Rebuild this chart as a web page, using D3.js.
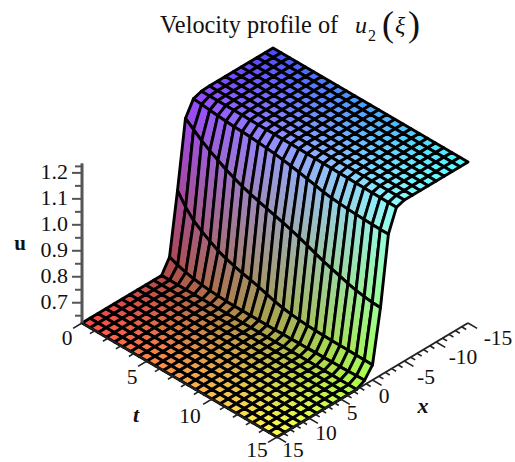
<!DOCTYPE html>
<html><head><meta charset="utf-8">
<script src="https://cdn.jsdelivr.net/npm/d3@7"></script>
<style>html,body{margin:0;padding:0;background:#fff}svg{display:block}text{font-family:"Liberation Serif",serif;fill:#111}</style>
</head><body><svg id="c" width="515" height="462"></svg>
<script>
// grid values along each axis
const xValues=[15,13.75,12.5,11.25,10,8.75,7.5,6.25,5,3.75,2.5,1.25,0,-1.25,-2.5,-3.75,-5,-6.25,-7.5,-8.75,-10,-11.25,-12.5,-13.75,-15];
const tValues=[0,0.625,1.25,1.875,2.5,3.125,3.75,4.375,5,5.625,6.25,6.875,7.5,8.125,8.75,9.375,10,10.625,11.25,11.875,12.5,13.125,13.75,14.375,15];
const uLow=0.62, uHigh=1.24;
// u along t (25 grid rows) for the grid columns where the front passes
const uAtX1p25=[.673,.660,.650,.643,.638,.634,.632,.630,.630,.630,.630,.630,.630,.630,.631,.631,.632,.632,.633,.633,.634,.634,.635,.636,.637];
const uAtX0=[.910,.865,.830,.807,.788,.770,.757,.747,.738,.730,.722,.712,.702,.695,.690,.686,.683,.682,.681,.680,.680,.680,.679,.679,.678];
const uAtXm1p25=[1.170,1.145,1.120,1.100,1.082,1.064,1.049,1.036,1.025,1.015,1.006,.997,.988,.978,.967,.955,.942,.930,.920,.910,.900,.892,.886,.882,.880];
const uAtXm2p5=[1.227,1.224,1.220,1.217,1.214,1.211,1.210,1.208,1.205,1.202,1.198,1.193,1.188,1.182,1.175,1.168,1.161,1.156,1.153,1.150,1.148,1.147,1.146,1.145,1.145];
const uAtXm3p75=[1.238,1.238,1.238,1.238,1.238,1.238,1.237,1.237,1.237,1.237,1.236,1.236,1.236,1.235,1.235,1.234,1.234,1.233,1.233,1.232,1.232,1.231,1.231,1.230,1.230];
const frontColumns=new Map([[1.25,uAtX1p25],[0,uAtX0],[-1.25,uAtXm1p25],[-2.5,uAtXm2p5],[-3.75,uAtXm3p75]]);
// tick labels
const uTicks=[0.7,0.8,0.9,1.0,1.1,1.2];
const uMinorTicks=[0.65,0.75,0.85,0.95,1.05,1.15,1.225];
const tLabels=[0,5,10,15];
const xLabels=[15,10,5,0,-5,-10,-15];
const minorUnits=d3.range(0,16);
const xUnits=d3.range(-15,16);

const svg=d3.select("#c");
const defs=svg.append("defs");
defs.append("filter").attr("id","soft").attr("filterUnits","userSpaceOnUse").attr("x",0).attr("y",0).attr("width",515).attr("height",462)
  .append("feGaussianBlur").attr("stdDeviation",0.6);

// oblique projection built from linear scales
const tSX=d3.scaleLinear().domain([0,15]).range([0,195]);
const tSY=d3.scaleLinear().domain([0,15]).range([0,114]);
const xSX=d3.scaleLinear().domain([15,-15]).range([82,273]);
const xSY=d3.scaleLinear().domain([15,-15]).range([0,-114]);
const uS=d3.scaleLinear().domain([uLow,uHigh]).range([323,162]);
const px=(x,t)=>xSX(x)+tSX(t);
const py=(x,t,u)=>uS(u)+xSY(x)+tSY(t);

const red=d3.scaleLinear().domain([15,-15]).range([255,75]);
const green=d3.scaleLinear().domain([0,15]).range([72,255]);
const blue=d3.scaleLinear().domain([uLow,uHigh]).range([72,255]);
const col=(x,t,u)=>`rgb(${red(x)|0},${green(t)|0},${blue(u)|0})`;

function uAt(xi,ti){
  const x=xValues[xi];
  if(frontColumns.has(x)) return frontColumns.get(x)[ti];
  return x>0?uLow:uHigh;
}

const cells=[];
tValues.slice(0,-1).forEach((t,ti)=>{
  for(let xi=xValues.length-2;xi>=0;xi--) cells.push({ti,xi});
});
const surface=svg.append("g").attr("filter","url(#soft)");
cells.forEach((c,k)=>{
  const {ti,xi}=c;
  const tm=(tValues[ti]+tValues[ti+1])/2;
  const p=[[xi,ti],[xi+1,ti],[xi+1,ti+1],[xi,ti+1]].map(([a,b])=>[px(xValues[a],tValues[b]),py(xValues[a],tValues[b],uAt(a,b))]);
  const u0=(uAt(xi,ti)+uAt(xi,ti+1))/2, u1=(uAt(xi+1,ti)+uAt(xi+1,ti+1))/2;
  const g=defs.append("linearGradient").attr("id","g"+k).attr("gradientUnits","userSpaceOnUse")
    .attr("x1",(p[0][0]+p[3][0])/2).attr("y1",(p[0][1]+p[3][1])/2)
    .attr("x2",(p[1][0]+p[2][0])/2).attr("y2",(p[1][1]+p[2][1])/2);
  g.append("stop").attr("offset",0).attr("stop-color",col(xValues[xi],tm,u0));
  g.append("stop").attr("offset",1).attr("stop-color",col(xValues[xi+1],tm,u1));
  surface.append("path").attr("d",d3.line()(p)+"Z").attr("fill",`url(#g${k})`)
    .attr("stroke","#000").attr("stroke-width",2.9).attr("stroke-linejoin","round");
});

// u axis
const axisColor="#555";
const uWrap=svg.append("g").attr("filter","url(#soft)");
const uAxis=uWrap.append("g").attr("transform","translate(82,0)");
uAxis.call(d3.axisLeft(uS).tickValues(uTicks).tickSize(10).tickFormat(""));
const uMinor=uWrap.append("g").attr("transform","translate(82,0)");
uMinor.call(d3.axisLeft(uS).tickValues(uMinorTicks).tickSize(7).tickFormat(""));
[uAxis,uMinor].forEach(g=>{g.selectAll("line").attr("stroke",axisColor).attr("stroke-width",2);g.select(".domain").remove();});
uWrap.append("line").attr("x1",82).attr("x2",82).attr("y1",uS(1.235)).attr("y2",uS(uLow)).attr("stroke",axisColor).attr("stroke-width",3);
svg.append("g").selectAll("text").data(uTicks).join("text")
  .attr("x",68).attr("y",d=>uS(d)+7).attr("text-anchor","end").attr("font-size",22).text(d=>d.toFixed(1));
svg.append("text").attr("x",20).attr("y",250).attr("text-anchor","middle").attr("font-size",21).attr("font-weight","bold").text("u");

// t axis (floor edge at x = 15) and x axis (floor edge at t = 15)
const axes=svg.append("g").attr("stroke","#222").attr("filter","url(#soft)");
axes.append("line").attr("x1",px(15,0)).attr("y1",py(15,0,uLow)).attr("x2",px(15,15)).attr("y2",py(15,15,uLow)).attr("stroke-width",2);
axes.append("line").attr("x1",px(15,15)).attr("y1",py(15,15,uLow)).attr("x2",px(-15,15)).attr("y2",py(-15,15,uLow)).attr("stroke-width",2);
axes.selectAll(".tt").data(minorUnits).join("line").attr("class","tt")
  .attr("x1",d=>px(15,d)).attr("y1",d=>py(15,d,uLow))
  .attr("x2",d=>px(d%5?15.8:16.4,d)).attr("y2",d=>py(d%5?15.8:16.4,d,uLow)).attr("stroke-width",1.6);
axes.selectAll(".xt").data(xUnits).join("line").attr("class","xt")
  .attr("x1",d=>px(d,15)).attr("y1",d=>py(d,15,uLow))
  .attr("x2",d=>px(d,d%5?15.35:15.7)).attr("y2",d=>py(d,d%5?15.35:15.7,uLow)).attr("stroke-width",1.6);

const tPos=new Map([[0,[67,345]],[5,[132,384]],[10,[190,423]],[15,[257,457]]]);
svg.append("g").selectAll("text").data(tLabels).join("text").attr("text-anchor","middle").attr("font-size",21.5)
  .attr("x",d=>tPos.get(d)[0]).attr("y",d=>tPos.get(d)[1]).text(d=>d);
const xPos=new Map([[15,[293,457]],[10,[326,440]],[5,[352,420]],[0,[384,403]],[-5,[426,384]],[-10,[463,364]],[-15,[498,345]]]);
svg.append("g").selectAll("text").data(xLabels).join("text").attr("text-anchor","middle").attr("font-size",21.5)
  .attr("x",d=>xPos.get(d)[0]).attr("y",d=>xPos.get(d)[1]).text(d=>d);
svg.append("text").attr("x",136).attr("y",422).attr("text-anchor","middle").attr("font-size",22).attr("font-style","italic").attr("font-weight","bold").text("t");
svg.append("text").attr("x",423).attr("y",413).attr("text-anchor","middle").attr("font-size",22).attr("font-style","italic").attr("font-weight","bold").text("x");

// title
const title=svg.append("g");
title.append("text").attr("x",160).attr("y",33).attr("font-size",24.3).text("Velocity profile of");
title.append("text").attr("x",355).attr("y",33).attr("font-size",24).attr("font-style","italic").text("u");
title.append("text").attr("x",368).attr("y",41).attr("font-size",16).text("2");
title.append("text").attr("x",382).attr("y",36).attr("font-size",36).attr("font-weight","200").text("(");
title.append("text").attr("x",395).attr("y",33).attr("font-size",24).attr("font-style","italic").text("ξ");
title.append("text").attr("x",408).attr("y",36).attr("font-size",36).attr("font-weight","200").text(")");
</script></body></html>
